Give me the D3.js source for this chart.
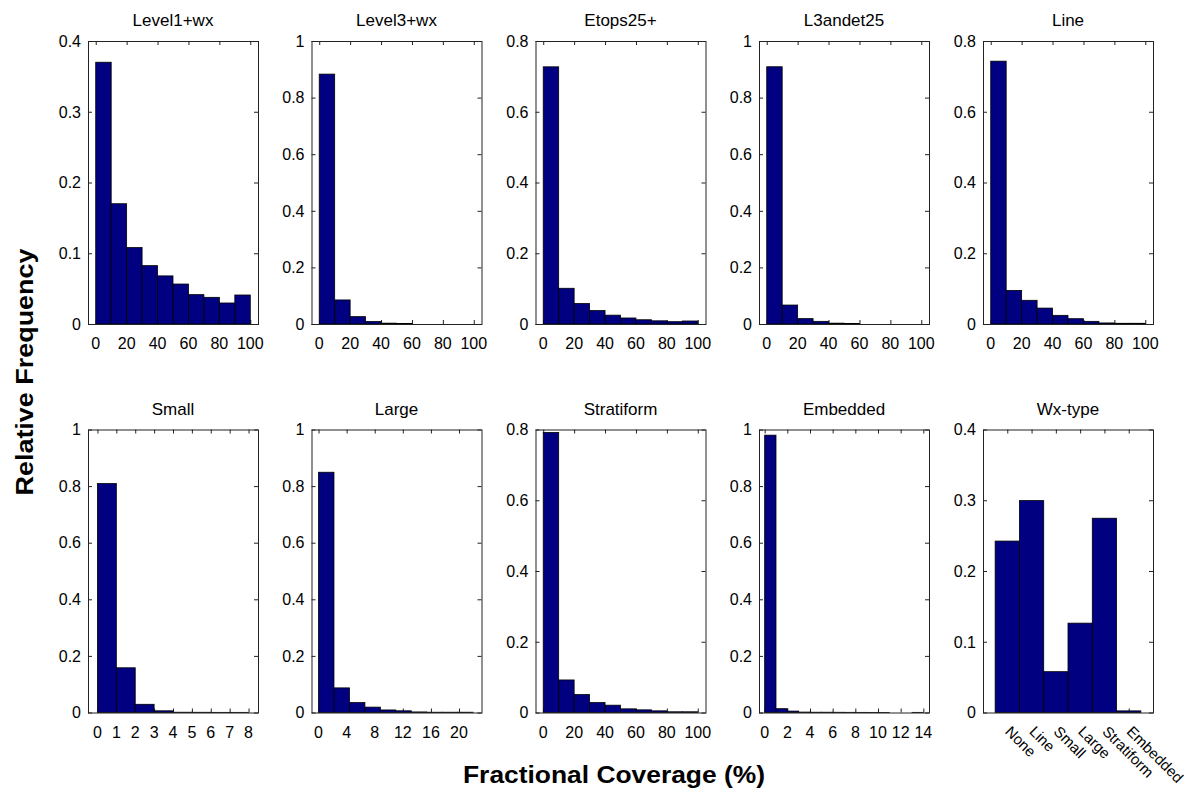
<!DOCTYPE html>
<html>
<head>
<meta charset="utf-8">
<script src="https://cdn.jsdelivr.net/npm/d3@7"></script>
<style>
  body { margin: 0; background: #fff; }
  text { font-family: "Liberation Sans", Arial, Helvetica, sans-serif; fill: #000; }
</style>
</head>
<body>
<div id="chart"></div>
<script>
// bin edges (x categories)
var pctEdges   = [0, 10, 20, 30, 40, 50, 60, 70, 80, 90, 100];
var smallEdges = [0, 1, 2, 3, 4, 5, 6, 7, 8];
var largeEdges = [0, 2.2, 4.4, 6.6, 8.8, 11, 13.2, 15.4, 17.6, 19.8, 22];
var embEdges   = [0, 1, 2, 3, 4, 5, 6, 7, 8, 9, 10, 11, 12, 13, 14];
var wxTypes    = ["None", "Line", "Small", "Large", "Stratiform", "Embedded"];

// relative frequencies
var level1Wx   = [0.370, 0.170, 0.108, 0.0825, 0.068, 0.0565, 0.0415, 0.0377, 0.0297, 0.041];
var level3Wx   = [0.883, 0.085, 0.026, 0.009, 0.003, 0.002, 0, 0, 0, 0];
var etops25    = [0.727, 0.101, 0.058, 0.038, 0.025, 0.017, 0.012, 0.009, 0.0066, 0.0085];
var l3andet25  = [0.909, 0.067, 0.019, 0.0094, 0.003, 0.002, 0, 0, 0, 0];
var lineCov    = [0.743, 0.095, 0.067, 0.045, 0.0245, 0.015, 0.0075, 0.003, 0.002, 0.002];
var smallCov   = [0.809, 0.158, 0.029, 0.006, 0.001, 0.0008, 0.0005, 0.0005];
var largeCov   = [0.849, 0.087, 0.035, 0.019, 0.009, 0.006, 0.002, 0.001, 0.001, 0.001];
var stratCov   = [0.7915, 0.092, 0.0507, 0.028, 0.0207, 0.0103, 0.0075, 0.0047, 0.002, 0.002];
var embCov     = [0.980, 0.0135, 0.005, 0.0015, 0.001, 0.001, 0.0008, 0.0006, 0.0005, 0.0004, 0.0003, 0, 0, 0.0005];
var wxTypeFreq = [0.2423, 0.2995, 0.0577, 0.1263, 0.2746, 0.0023];

// tick labels
var pctTicks   = [0, 20, 40, 60, 80, 100];
var smallTicks = [0, 1, 2, 3, 4, 5, 6, 7, 8];
var largeTicks = [0, 4, 8, 12, 16, 20];
var embTicks   = [0, 2, 4, 6, 8, 10, 12, 14];
var wxTicks    = [1, 2, 3, 4, 5, 6];
var yTicks04   = [0, 0.1, 0.2, 0.3, 0.4];
var yTicks08   = [0, 0.2, 0.4, 0.6, 0.8];
var yTicks1    = [0, 0.2, 0.4, 0.6, 0.8, 1];

function binsOf(edges, vals) {
  return vals.map(function(v, i) { return {x0: edges[i], x1: edges[i + 1], v: v}; });
}

var panels = [
  {title: "Level1+wx",  bins: binsOf(pctEdges, level1Wx),  xd: [-5, 105],     xt: pctTicks,   yt: yTicks04},
  {title: "Level3+wx",  bins: binsOf(pctEdges, level3Wx),  xd: [-5, 105],     xt: pctTicks,   yt: yTicks1},
  {title: "Etops25+",   bins: binsOf(pctEdges, etops25),   xd: [-5, 105],     xt: pctTicks,   yt: yTicks08},
  {title: "L3andet25",  bins: binsOf(pctEdges, l3andet25), xd: [-5, 105],     xt: pctTicks,   yt: yTicks1},
  {title: "Line",       bins: binsOf(pctEdges, lineCov),   xd: [-5, 105],     xt: pctTicks,   yt: yTicks08},
  {title: "Small",      bins: binsOf(smallEdges, smallCov), xd: [-0.5, 8.5],  xt: smallTicks, yt: yTicks1},
  {title: "Large",      bins: binsOf(largeEdges, largeCov), xd: [-1, 23.2],   xt: largeTicks, yt: yTicks1},
  {title: "Stratiform", bins: binsOf(pctEdges, stratCov),  xd: [-5, 105],     xt: pctTicks,   yt: yTicks08},
  {title: "Embedded",   bins: binsOf(embEdges, embCov),    xd: [-0.5, 14.5],  xt: embTicks,   yt: yTicks1},
  {title: "Wx-type",    bins: wxTypeFreq.map(function(v, i) { return {x0: i + 0.5, x1: i + 1.5, v: v}; }),
                        xd: [0, 7], xt: wxTicks, yt: yTicks04, labels: wxTypes}
];

var W = 1189, H = 801;
var pw = 170, ph = 283, tick = 4;
var lefts = [88, 311.5, 535.5, 759, 983];
var tops = [41, 429.5];

var svg = d3.select("#chart").append("svg")
  .attr("width", W).attr("height", H);
svg.append("rect").attr("width", W).attr("height", H).attr("fill", "#fff");

panels.forEach(function(p, k) {
  var col = k % 5, row = Math.floor(k / 5);
  var g = svg.append("g")
    .attr("transform", "translate(" + lefts[col] + "," + tops[row] + ")");

  var x = d3.scaleLinear().domain(p.xd).range([0, pw]);
  var y = d3.scaleLinear().domain([0, p.yt[p.yt.length - 1]]).range([ph, 0]);

  // ticks inside the box, on all four sides (drawn under the bars)
  g.append("g").call(d3.axisBottom(x).tickValues(p.xt).tickSize(-tick).tickFormat(""))
    .attr("transform", "translate(0," + ph + ")");
  g.append("g").call(d3.axisTop(x).tickValues(p.xt).tickSize(-tick).tickFormat(""));
  g.append("g").call(d3.axisLeft(y).tickValues(p.yt).tickSize(-tick).tickFormat(""));
  g.append("g").call(d3.axisRight(y).tickValues(p.yt).tickSize(-tick).tickFormat(""))
    .attr("transform", "translate(" + pw + ",0)");
  g.selectAll(".domain").remove();
  g.selectAll(".tick line").attr("stroke", "#222").attr("stroke-width", 1);

  // bars
  g.selectAll("rect.bar")
    .data(p.bins.filter(function(d) { return d.v > 0; }))
    .join("rect")
    .attr("class", "bar")
    .attr("x", function(d) { return x(d.x0); })
    .attr("y", function(d) { return y(d.v); })
    .attr("width", function(d) { return x(d.x1) - x(d.x0); })
    .attr("height", function(d) { return ph - y(d.v); })
    .attr("fill", "#000080")
    .attr("stroke", "#000")
    .attr("stroke-width", 0.8);

  // box
  g.append("rect")
    .attr("x", 0.5).attr("y", 0.5).attr("width", pw).attr("height", ph)
    .attr("fill", "none").attr("stroke", "#222").attr("stroke-width", 1);

  // y tick labels
  g.selectAll("text.yl")
    .data(p.yt)
    .join("text")
    .attr("class", "yl")
    .attr("x", -7)
    .attr("y", function(d) { return y(d); })
    .attr("dy", "0.36em")
    .attr("text-anchor", "end")
    .style("font-size", "16px")
    .text(function(d) { return d3.format("~g")(d); });

  // x tick labels
  if (p.labels) {
    g.selectAll("text.xl")
      .data(p.xt)
      .join("text")
      .attr("class", "xl")
      .attr("transform", function(d) { return "translate(" + (x(d) - 3) + "," + (ph + 20) + ")rotate(45)"; })
      .attr("text-anchor", "start")
      .style("font-size", "15px")
      .text(function(d, i) { return p.labels[i]; });
  } else {
    g.selectAll("text.xl")
      .data(p.xt)
      .join("text")
      .attr("class", "xl")
      .attr("x", function(d) { return x(d); })
      .attr("y", ph + 25)
      .attr("text-anchor", "middle")
      .style("font-size", "16px")
      .text(function(d) { return d; });
  }

  // title
  g.append("text")
    .attr("x", pw / 2)
    .attr("y", -15)
    .attr("text-anchor", "middle")
    .style("font-size", "17px")
    .text(p.title);
});

svg.append("text")
  .attr("transform", "translate(33,372)rotate(-90)")
  .attr("text-anchor", "middle")
  .style("font-size", "24px")
  .style("font-weight", "bold")
  .attr("textLength", 247)
  .attr("lengthAdjust", "spacingAndGlyphs")
  .text("Relative Frequency");

svg.append("text")
  .attr("x", 614)
  .attr("y", 783)
  .attr("text-anchor", "middle")
  .style("font-size", "24px")
  .style("font-weight", "bold")
  .attr("textLength", 302)
  .attr("lengthAdjust", "spacingAndGlyphs")
  .text("Fractional Coverage (%)");
</script>
</body>
</html>
